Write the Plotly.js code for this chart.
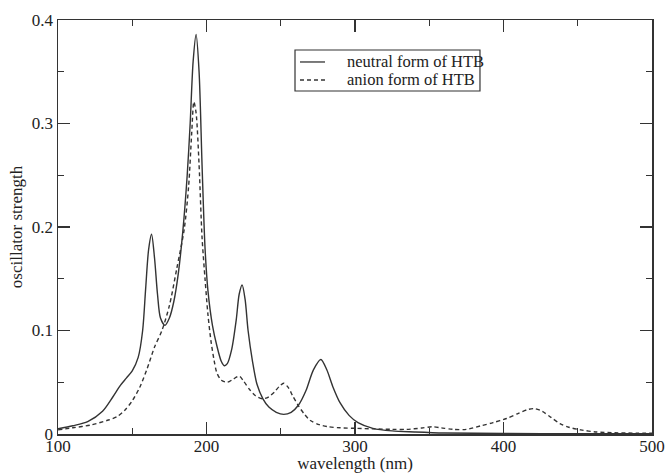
<!DOCTYPE html>
<html>
<head>
<meta charset="utf-8">
<script src="https://cdn.plot.ly/plotly-3.0.1.min.js"></script>
<style>
html,body{margin:0;padding:0;background:#fff;}
#chart{width:666px;height:473px;}
</style>
</head>
<body>
<div id="chart"></div>
<script>
var neutralX = [100,110,120,130,137,142,146,150,154,157,159,161,163,165,167,169,172,175,178,181,184,187,189,191,193,195,197,199,201,204,207,210,212,214,217,220,222,224,226,228,231,234,238,242,247,252,257,262,267,272,277,281,285,290,296,302,312,325,340,360,400,450,500];
var neutralY = [0.005,0.008,0.012,0.022,0.036,0.047,0.054,0.061,0.074,0.100,0.140,0.178,0.193,0.170,0.135,0.112,0.105,0.112,0.128,0.155,0.195,0.250,0.300,0.360,0.386,0.350,0.260,0.180,0.138,0.105,0.085,0.070,0.066,0.068,0.082,0.110,0.135,0.144,0.130,0.100,0.070,0.048,0.034,0.026,0.021,0.019,0.021,0.028,0.042,0.062,0.072,0.062,0.046,0.030,0.018,0.011,0.0055,0.003,0.002,0.001,0.0005,0.0003,0.0002];

var anionX = [100,110,122,134,140,145,150,155,160,165,170,175,180,185,188,190,191.5,193,195,197,199,201,203,205,207,210,214,218,222,225,229,233,238,242,246,249,252,255,258,262,266,270,276,282,290,300,312,325,335,345,352,358,366,375,385,393,402,410,416,421,426,432,438,444,452,462,475,490,500];
var anionY = [0.004,0.006,0.0087,0.0135,0.017,0.023,0.032,0.045,0.063,0.084,0.100,0.124,0.160,0.198,0.240,0.290,0.321,0.310,0.260,0.190,0.150,0.115,0.090,0.072,0.059,0.052,0.050,0.053,0.056,0.051,0.043,0.037,0.034,0.036,0.041,0.046,0.049,0.045,0.037,0.027,0.019,0.013,0.009,0.007,0.006,0.0055,0.005,0.0045,0.0045,0.0058,0.007,0.006,0.0045,0.0045,0.008,0.011,0.015,0.020,0.0235,0.0245,0.022,0.016,0.010,0.0065,0.004,0.002,0.0012,0.0008,0.0007];

var seriesNames = ["neutral form of HTB", "anion form of HTB"];
var seriesDash = ["solid", "4px,3px"];

var fontFam = "Liberation Serif, Times New Roman, serif";
var ink = "#333333";
var textInk = "#222222";

var traces = [
  {x: neutralX, y: neutralY, name: seriesNames[0], type: "scatter", mode: "lines", showlegend: false,
   line: {color: ink, width: 1.4, shape: "spline", smoothing: 0.8, dash: seriesDash[0]}},
  {x: anionX, y: anionY, name: seriesNames[1], type: "scatter", mode: "lines", showlegend: false,
   line: {color: ink, width: 1.4, shape: "spline", smoothing: 0.8, dash: seriesDash[1]}}
];

// legend drawn as a boxed key in paper coordinates
var legX0 = 0.399, legX1 = 0.7104, legY0 = 0.8285, legY1 = 0.9275;
var rowY = [0.8986, 0.8551];
var sampleX0 = 0.4074, sampleX1 = 0.4495, textX = 0.4840;

var shapes = [{type: "rect", xref: "paper", yref: "paper", x0: legX0, x1: legX1, y0: legY0, y1: legY1,
               line: {color: ink, width: 1.2}, fillcolor: "rgba(0,0,0,0)"}];
var annotations = [];
for (var i = 0; i < seriesNames.length; i++) {
  shapes.push({type: "line", xref: "paper", yref: "paper", x0: sampleX0, x1: sampleX1, y0: rowY[i], y1: rowY[i],
               line: {color: ink, width: 1.3, dash: seriesDash[i]}});
  annotations.push({xref: "paper", yref: "paper", x: textX, y: rowY[i], xanchor: "left", yanchor: "middle",
                    text: seriesNames[i], showarrow: false,
                    font: {family: fontFam, size: 16.5, color: textInk}});
}

var axisCommon = {
  showgrid: false, zeroline: false, showline: true, linecolor: ink, linewidth: 1.5,
  mirror: "ticks", ticks: "inside", ticklen: 12, tickwidth: 1.2, tickcolor: ink,
  tickfont: {family: fontFam, size: 17, color: textInk}
};

var layout = {
  width: 666, height: 473,
  margin: {l: 58, r: 14, t: 20, b: 39},
  paper_bgcolor: "#fff", plot_bgcolor: "#fff",
  showlegend: false,
  shapes: shapes,
  annotations: annotations,
  xaxis: Object.assign({}, axisCommon, {
    range: [100, 500], dtick: 100, tick0: 100,
    minor: {ticks: "inside", ticklen: 6, dtick: 50, tickwidth: 1.2, tickcolor: ink},
    ticklabelstandoff: -4,
    title: {text: "wavelength (nm)", font: {family: fontFam, size: 17, color: textInk}, standoff: 0}
  }),
  yaxis: Object.assign({}, axisCommon, {
    range: [0, 0.4], dtick: 0.1, tick0: 0,
    minor: {ticks: "inside", ticklen: 6, dtick: 0.05, tickwidth: 1.2, tickcolor: ink},
    ticklabelstandoff: 0,
    title: {text: "oscillator strength", font: {family: fontFam, size: 17, color: textInk}, standoff: 5}
  })
};

Plotly.newPlot("chart", traces, layout, {displayModeBar: false, staticPlot: true});
</script>
</body>
</html>
